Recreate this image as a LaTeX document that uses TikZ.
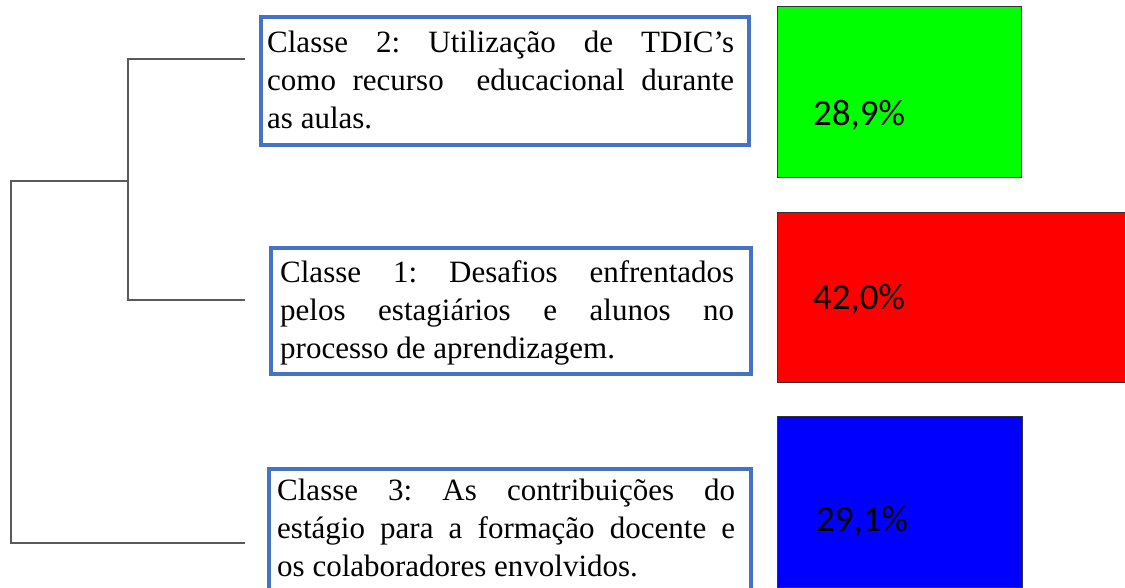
\documentclass[tikz,border=0pt]{standalone}
\usepackage{fontspec}
\setmainfont{Liberation Serif}
\newfontfamily\calibfont{Carlito}
\definecolor{boxblue}{HTML}{4472C4}
\definecolor{dendro}{HTML}{5A5A5A}
\definecolor{pctgreen}{RGB}{0,255,0}
\definecolor{pctred}{RGB}{255,0,0}
\definecolor{pctblue}{RGB}{0,0,255}
\newcommand\justline[2]{\makebox[#1][s]{\rule[-12pt]{0pt}{38pt}#2}}
\newcommand\lastline[1]{\rule[-12pt]{0pt}{38pt}#1}
\frenchspacing
\begin{document}
\begin{tikzpicture}[x=1pt,y=-1pt,
  classbox/.style={draw=boxblue, line width=3.6pt, fill=white, inner sep=0pt, anchor=north west},
  classtext/.style={anchor=north west, inner sep=0pt, align=left, font=\fontsize{31}{38}\selectfont\frenchspacing},
  pctbox/.style={draw=black!80, line width=1pt, inner sep=0pt, anchor=north west},
  pcttext/.style={anchor=base west, inner sep=0pt, font=\calibfont\fontsize{37}{44}\selectfont},
  dendline/.style={draw=dendro, line width=1.5pt}]
\useasboundingbox (0,0) rectangle (1125,588);
\clip (0,0) rectangle (1125,588);
\fill[white] (0,0) rectangle (1125,588);

% class boxes
\node[classbox, minimum width=488pt, minimum height=128pt] (b2) at (259,15) {};
\node[classbox, minimum width=480pt, minimum height=126pt] (b1) at (269,246) {};
\node[classbox, minimum width=482pt, minimum height=140pt] (b3) at (267,467) {};

\node[classtext] (t2) at (267,26) {\justline{467pt}{Classe 2: Utilização de TDIC’s}\\
  \justline{467pt}{como recurso\ \ educacional durante}\\
  \lastline{as aulas.}};
\node[classtext] (t1) at (280,256) {\justline{454pt}{Classe 1: Desafios enfrentados}\\
  \justline{454pt}{pelos estagiários e alunos no}\\
  \lastline{processo de aprendizagem.}};
\node[classtext] (t3) at (277,474) {\justline{458pt}{Classe 3: As contribuições do}\\
  \justline{458pt}{estágio para a formação docente e}\\
  \lastline{os colaboradores envolvidos.}};

% percentage boxes
\node[pctbox, fill=pctgreen, minimum width=244pt, minimum height=171pt] (g) at (777,6) {};
\node[pctbox, fill=pctred, minimum width=358pt, minimum height=170pt] (r) at (777,212) {};
\node[pctbox, fill=pctblue, minimum width=245pt, minimum height=171pt] (bl) at (777,416) {};
\node[pcttext] (p2) at (813,126) {28,9\%};
\node[pcttext] (p1) at (813,309) {42,0\%};
\node[pcttext] (p3) at (816,531) {29,1\%};

% dendrogram
\coordinate (l2) at (245,59);
\coordinate (l1) at (245,300);
\coordinate (l3) at (245,543);
\coordinate (j12) at (128,181);
\coordinate (root) at (11,362);
\draw[dendline] (l2) -| (j12) |- (l1);
\draw[dendline] (j12) -| (root) |- (l3);
\end{tikzpicture}
\end{document}
